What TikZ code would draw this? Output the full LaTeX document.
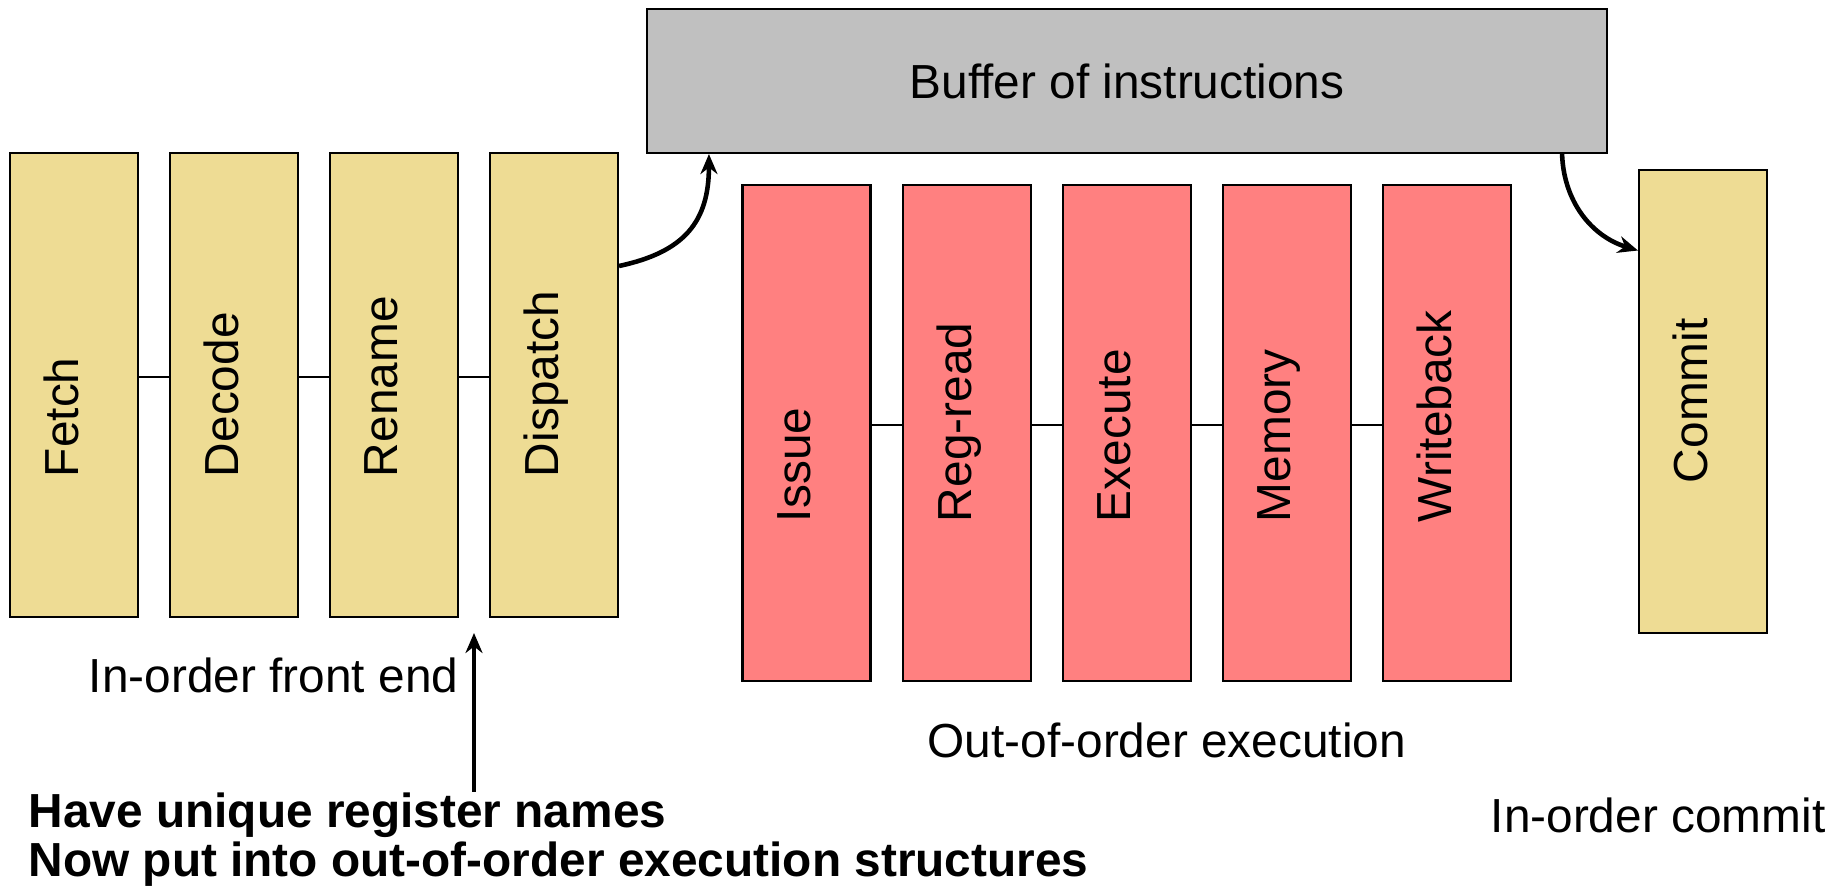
\documentclass[tikz,border=0pt]{standalone}
\usepackage{fontspec}
\setmainfont{Liberation Sans}
\usetikzlibrary{positioning,arrows.meta}
\definecolor{stageyellow}{RGB}{238,220,148}
\definecolor{stagered}{RGB}{255,128,128}
\definecolor{buffergray}{RGB}{192,192,192}
% rotated stage name, left aligned in a box of given length
\newcommand{\vlabel}[2]{\rotatebox{90}{\makebox[#1][l]{\rule[-0.25cm]{0pt}{0.404cm}#2}}}

\begin{document}
\begin{tikzpicture}[>={Stealth[length=2mm,width=1.7mm]},
        font=\fontsize{13.6pt}{18pt}\selectfont,
        inorder/.style={draw, line width=0.6pt, fill=stageyellow, minimum width=1.28cm, minimum height=4.64cm, inner sep=0pt},
        ooo/.style={inorder, fill=stagered, minimum height=4.96cm},
        flow/.style={->, line width=1.3pt},
        caption/.style={inner sep=0pt},
        remark/.style={caption, font=\fontsize{13.6pt}{18pt}\selectfont\bfseries}]
    \useasboundingbox (0,0) rectangle (18.47,-8.95);

    % in-order front end
    \node[inorder] (fetch) at (0.736,-3.85) {\vlabel{1.84cm}{Fetch}};
    \node[inorder, right=0.30cm of fetch] (decode) {\vlabel{1.84cm}{Decode}};
    \node[inorder, right=0.30cm of decode] (rename) {\vlabel{1.84cm}{Rename}};
    \node[inorder, right=0.30cm of rename] (dispatch) {\vlabel{1.84cm}{Dispatch}};
    \foreach \a/\b in {fetch/decode,rename/dispatch,decode/rename}
        \draw[line width=0.5pt] ([yshift=0.08cm]\a.east) -- ([yshift=0.08cm]\b.west);

    % buffer
    \node[draw, line width=0.6pt, fill=buffergray, minimum width=9.6cm, minimum height=1.44cm] (buffer) at (11.27,-0.81) {Buffer of instructions};

    % out-of-order execution
    \node[ooo] (issue) at (8.065,-4.33) {\vlabel{1.78cm}{Issue}};
    \node[ooo, right=0.30cm of issue] (regread) {\vlabel{1.78cm}{Reg-read}};
    \node[ooo, right=0.30cm of regread] (execute) {\vlabel{1.78cm}{Execute}};
    \node[ooo, right=0.30cm of execute] (memory) {\vlabel{1.78cm}{Memory}};
    \node[ooo, right=0.30cm of memory] (writeback) {\vlabel{1.78cm}{Writeback}};
    \foreach \a/\b in {issue/regread,regread/execute,execute/memory,memory/writeback}
        \draw[line width=0.5pt] ([yshift=0.08cm]\a.east) -- ([yshift=0.08cm]\b.west);

    % commit
    \node[inorder, minimum height=4.63cm] (commit) at (17.03,-4.015) {\vlabel{1.63cm}{Commit}};

    \draw[flow] ([yshift=1.19cm]dispatch.east) to[out=12,in=-90,looseness=1.2] ([xshift=0.63cm]buffer.south west);
    \draw[flow] ([xshift=-0.46cm]buffer.south east) to[out=-88,in=163] ([yshift=1.51cm]commit.west);

    % captions
    \node[caption, anchor=base east] (frontlbl) at (4.59,-6.92) {In-order front end};
    \node[caption, anchor=base west] (ooolbl) at (9.27,-7.57) {Out-of-order execution};
    \node[caption, anchor=base west] (commitlbl) at (14.90,-8.32) {In-order commit};

    \node[remark, anchor=base west] (regnames) at (0.28,-8.27) {Have unique register names};
    \node[remark, anchor=base west] (oooput) at (0.28,-8.76) {Now put into out-of-order execution structures};
    \coordinate (gap) at (4.74,-6.33);
    \draw[flow] (regnames.north -| gap) -- (gap);
\end{tikzpicture}
\end{document}
